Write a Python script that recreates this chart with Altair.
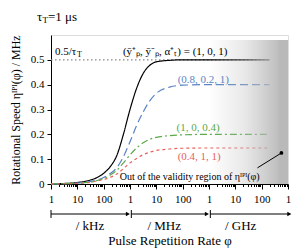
import altair as alt
import pandas as pd

# log10 of pulse repetition rate (Hz)
log_phi = [3, 3.5, 4, 4.5, 4.75, 5, 5.25, 5.5, 5.75, 6, 6.25, 6.5, 6.75, 7, 7.5, 8, 9, 10, 11.3]
eta_101 = [0.001, 0.002, 0.006, 0.016, 0.026, 0.043, 0.07, 0.115, 0.20, 0.30, 0.385, 0.445, 0.478, 0.492, 0.498, 0.5, 0.5, 0.5, 0.5]
eta_08021 = [0.0005, 0.0012, 0.0035, 0.01, 0.016, 0.026, 0.042, 0.066, 0.11, 0.17, 0.235, 0.29, 0.335, 0.365, 0.39, 0.398, 0.4, 0.4, 0.4]
eta_1004 = [0.0005, 0.0012, 0.003, 0.008, 0.014, 0.022, 0.036, 0.055, 0.085, 0.117, 0.145, 0.166, 0.18, 0.188, 0.195, 0.198, 0.2, 0.2, 0.2]
eta_0411 = [0.0004, 0.001, 0.0025, 0.007, 0.012, 0.018, 0.027, 0.04, 0.062, 0.085, 0.103, 0.118, 0.128, 0.135, 0.141, 0.144, 0.145, 0.145, 0.145]

series_names = ["(1, 0, 1)", "(0.8, 0.2, 1)", "(1, 0, 0.4)", "(0.4, 1, 1)"]
series_vals = [eta_101, eta_08021, eta_1004, eta_0411]
series_colors = ["#000000", "#5b84c4", "#5aaa4c", "#e8625c"]
series_dash = [[1, 0], [8, 4], [7, 3, 2, 3], [3, 3]]

y_ticks = [0, 0.1, 0.2, 0.3, 0.4, 0.5]

FONT = "Liberation Serif"
XD = [1e3, 1e12]
YD = [0, 0.6]
W, H = 237, 149

xs = alt.Scale(type="log", domain=XD, nice=False)
ys = alt.Scale(domain=YD, nice=False, zero=False)

major = [10 ** k for k in range(3, 13)]
minor = [m * 10 ** k for k in range(3, 12) for m in range(2, 10)]
tick_vals = sorted(major + minor)

is_major = "abs(log(datum.value)/LN10 - round(log(datum.value)/LN10)) < 0.01"
label_expr = ("(" + is_major + ") ? (round(log(datum.value)/LN10) % 3 == 0 ? '1' : "
              "(round(log(datum.value)/LN10) % 3 == 1 ? '10' : '100')) : ''")
tick_size = {"condition": {"test": is_major, "value": 5}, "value": 2.5}

AX_X = alt.Axis(values=tick_vals, labelExpr=label_expr, tickSize=tick_size,
                labelFont=FONT, labelFontSize=11, labelPadding=4, labelColor="#000",
                domainColor="#000", tickColor="#000", labelFlush=False,
                labelOverlap=False, grid=False,
                title="Pulse Repetition Rate φ", titleFont=FONT, titleFontSize=13,
                titleFontWeight="normal", titlePadding=30, titleColor="#000")
AX_Y = alt.Axis(values=y_ticks,
                labelExpr="datum.value == 0 ? '0' : format(datum.value, '.1f')",
                labelOverlap=False,
                tickSize=4, labelFont=FONT, labelFontSize=11, labelColor="#000",
                domainColor="#000", tickColor="#000", grid=False, labelPadding=3,
                title="Rotational Speed ηᴵᴾᴵ(φ) / MHz", titleFont=FONT,
                titleFontSize=12, titleFontWeight="normal", titleColor="#000",
                titlePadding=8)


def X(f):
    return alt.X(f, scale=xs, axis=AX_X)


def Y(f):
    return alt.Y(f, scale=ys, axis=AX_Y)


layers = []

# reference 0.5/tau line
ref = pd.DataFrame({"x": [1e3, 10 ** 11.3], "y": [0.5, 0.5]})
layers.append(alt.Chart(ref).mark_line(color="#888888", strokeDash=[1.5, 2.5], strokeWidth=1.2).encode(
    x=X("x:Q"), y=Y("y:Q")))

for name, vals, col, dash in zip(series_names, series_vals, series_colors, series_dash):
    df = pd.DataFrame({"phi": [10 ** v for v in log_phi], "eta": vals})
    layers.append(alt.Chart(df).mark_line(color=col, strokeDash=dash, strokeWidth=1.2, interpolate="monotone").encode(
        x=X("phi:Q"), y=Y("eta:Q")))

# shaded invalid region (gradient)
shade = pd.DataFrame({"x": [1e9], "x2": [1e12], "y": [0], "y2": [0.58]})
layers.append(alt.Chart(shade).mark_rect(
    color=alt.Gradient(gradient="linear", x1=0, x2=1, y1=0, y2=0,
                       stops=[alt.GradientStop(color="rgba(190,190,190,0)", offset=0),
                              alt.GradientStop(color="rgba(190,190,190,0.35)", offset=0.45),
                              alt.GradientStop(color="rgba(185,185,185,0.9)", offset=0.86),
                              alt.GradientStop(color="#b9b9b9", offset=0.9),
                              alt.GradientStop(color="#b9b9b9", offset=1)])
).encode(x=X("x:Q"), x2="x2", y=Y("y:Q"), y2="y2"))

# series labels
lab = pd.DataFrame({
    "x": [10 ** 3.15, 10 ** 5.73, 10 ** 7.81, 10 ** 7.77, 10 ** 7.81],
    "y": [0.532, 0.532, 0.419, 0.226, 0.110],
    "t": ["0.5/τ", "(ȳ⁺ₚ, ȳ⁻ₚ, α⁺ₜ) = (1, 0, 1)", "(0.8, 0.2, 1)", "(1, 0, 0.4)", "(0.4, 1, 1)"],
    "c": ["#000000", "#000000", "#5b84c4", "#5aaa4c", "#e8625c"],
})
layers.append(alt.Chart(lab).mark_text(align="left", baseline="middle", font=FONT, fontSize=11).encode(
    x=X("x:Q"), y=Y("y:Q"), text="t:N", color=alt.Color("c:N", scale=None)))
sub = pd.DataFrame({"x": [10 ** 3.15], "y": [0.532], "t": ["T"]})
layers.append(alt.Chart(sub).mark_text(align="left", baseline="middle", font=FONT, fontSize=8, dx=22, dy=3).encode(
    x=X("x:Q"), y=Y("y:Q"), text="t:N"))

# out-of-validity annotation
ann = pd.DataFrame({"x": [10 ** 5.61], "y": [0.028], "t": ["Out of the validity region of ηᴵᴾᴵ(φ)"]})
layers.append(alt.Chart(ann).mark_text(align="left", baseline="middle", font=FONT, fontSize=10).encode(
    x=X("x:Q"), y=Y("y:Q"), text="t:N"))
ptr = pd.DataFrame({"x": [10 ** 10.84, 10 ** 11.75], "y": [0.065, 0.125]})
layers.append(alt.Chart(ptr).mark_line(color="#000", strokeWidth=1).encode(
    x=X("x:Q"), y=Y("y:Q")))
dot = pd.DataFrame({"x": [10 ** 11.75], "y": [0.125]})
layers.append(alt.Chart(dot).mark_point(filled=True, color="#000", size=14, opacity=1).encode(
    x=X("x:Q"), y=Y("y:Q")))

# unit arrows below the axis
seg_start = [10 ** 3.0, 10 ** 6.05, 10 ** 9.05]
seg_end = [10 ** 5.92, 10 ** 8.92, 10 ** 12.05]
unit_pos = [10 ** 4.48, 10 ** 7.3, 10 ** 10.2]
unit_text = ["/ kHz", "/ MHz", "/ GHz"]
arr = pd.DataFrame({"x": seg_start, "x2": seg_end})
layers.append(alt.Chart(arr).mark_rule(color="#000", strokeWidth=1, clip=False).encode(
    x=X("x:Q"), x2="x2", y=alt.value(179)))
layers.append(alt.Chart(arr).mark_rule(color="#000", strokeWidth=1, clip=False).encode(
    x=X("x:Q"), y=alt.value(175), y2=alt.value(183)))
layers.append(alt.Chart(arr).mark_point(shape="triangle-right", filled=True, color="#000", size=22, opacity=1, clip=False).encode(
    x=X("x2:Q"), y=alt.value(179)))
units = pd.DataFrame({"x": unit_pos, "t": unit_text})
layers.append(alt.Chart(units).mark_text(font=FONT, fontSize=13, baseline="middle", clip=False).encode(
    x=X("x:Q"), y=alt.value(191), text="t:N"))

# title tau_T = 1 us
layers.append(alt.Chart(pd.DataFrame({"t": ["τ"]})).mark_text(font=FONT, fontSize=13, align="left", baseline="middle").encode(
    x=alt.value(-14), y=alt.value(-18), text="t:N"))
layers.append(alt.Chart(pd.DataFrame({"t": ["T"]})).mark_text(font=FONT, fontSize=9, align="left", baseline="middle").encode(
    x=alt.value(-8.5), y=alt.value(-15), text="t:N"))
layers.append(alt.Chart(pd.DataFrame({"t": ["=1 μs"]})).mark_text(font=FONT, fontSize=13, align="left", baseline="middle").encode(
    x=alt.value(-3), y=alt.value(-18), text="t:N"))

chart = alt.layer(*layers).properties(
    width=W, height=H,
    autosize=alt.AutoSizeParams(type="none"),
    padding={"left": 43, "top": 27, "right": 10, "bottom": 64},
).configure_view(stroke=None).configure(font=FONT)

chart.save("out.html", embed_options={"renderer": "svg", "actions": False})
